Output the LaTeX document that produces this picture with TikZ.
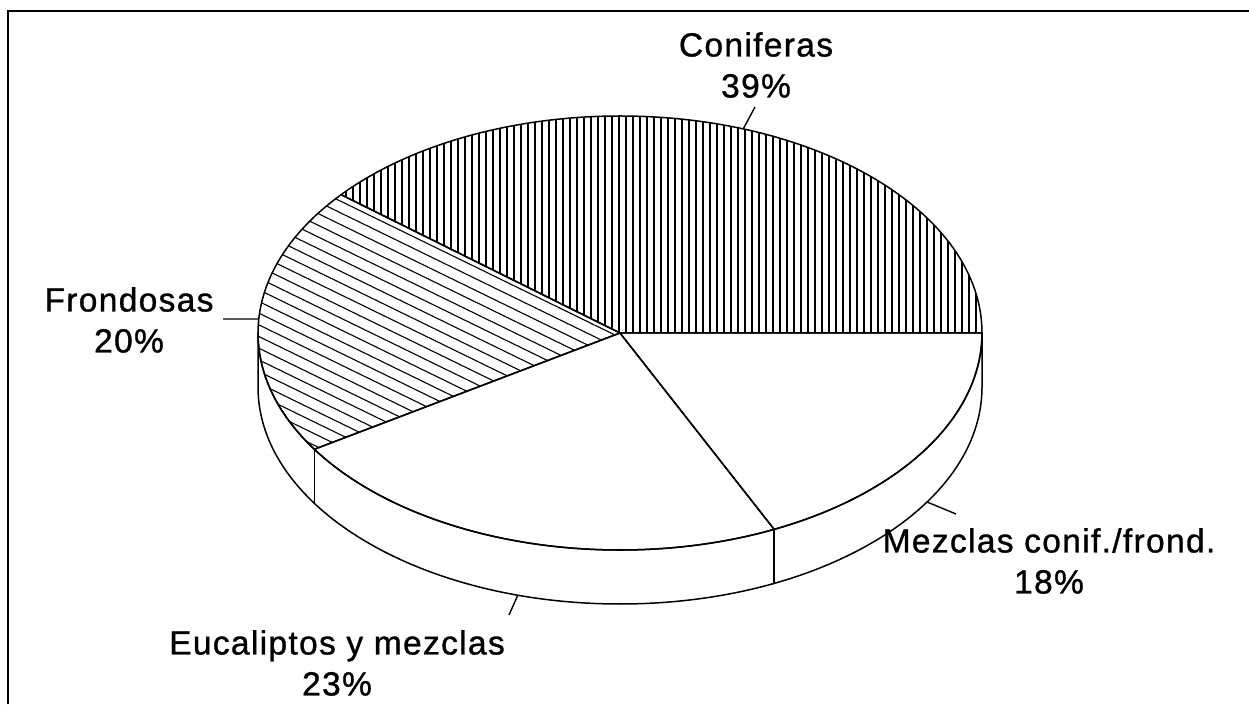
\documentclass[tikz,border=0pt]{standalone}
\usepackage{fontspec}
\newfontfamily\rotulo[LetterSpace=4, FakeBold=1]{Liberation Sans}
\usetikzlibrary{calc}
\tikzset{
	marco/.style={line width=2.4pt, black},
	contorno/.style={line width=1.5pt, black, line join=round},
	rayado/.style={line width=1.1pt, black},
	guia/.style={line width=1.4pt, black},
	elipse/.style={x radius=362, y radius=217},
	etiqueta/.style={font=\rotulo\fontsize{33.5}{41}\selectfont, align=center,
		inner sep=0pt, anchor=north}
}

\begin{document}
\begin{tikzpicture}[x=1pt, y=1pt]
	\useasboundingbox (0,0) rectangle (1249,704);
	\draw[marco] (8,0) -- (8,693) -- (1249,693);

	\coordinate (C) at (620,371);

	% lateral
	\draw[contorno, fill=white] ($(C)+(180:362 and 217)$) arc[start angle=180, end angle=360, elipse]
		-- ++(0,-54) arc[start angle=360, end angle=180, elipse] -- cycle;
	\draw[contorno] ($(C)+(212.4:362 and 217)$) -- ++(0,-54);
	\draw[contorno] ($(C)+(295.2:362 and 217)$) -- ++(0,-54);

	% coniferas
	\begin{scope}
		\clip (C) -- ++(0:362 and 217) arc[start angle=0, end angle=140.4, elipse] -- cycle;
		\foreach \x in {262,269,...,983}
			\draw[rayado] (\x,370) -- (\x,600);
	\end{scope}
	\draw[contorno] (C) -- ++(0:362 and 217) arc[start angle=0, end angle=140.4, elipse] -- cycle;

	% frondosas
	\begin{scope}
		\clip (C) -- ++(140.4:362 and 217) arc[start angle=140.4, end angle=212.4, elipse] -- cycle;
		\begin{scope}[shift={(C)}, rotate=-26]
			\foreach \d in {-4,-14.5,...,-270}
				\draw[rayado] (-420,\d) -- (60,\d);
		\end{scope}
	\end{scope}
	\draw[contorno] (C) -- ++(140.4:362 and 217) arc[start angle=140.4, end angle=212.4, elipse] -- cycle;

	% eucaliptos y mezclas
	\draw[contorno] (C) -- ++(212.4:362 and 217) arc[start angle=212.4, end angle=295.2, elipse] -- cycle;
	\draw[contorno] (C) -- ++(295.2:362 and 217) arc[start angle=295.2, end angle=360, elipse] -- cycle;

	% guias
	\coordinate (con-a) at ($(C)+(70.1:362 and 217)$);
	\coordinate (con-b) at (755,597);
	\coordinate (fro-a) at ($(C)+(176.3:362 and 217)$);
	\coordinate (fro-b) at (223,385);
	\coordinate (mez-a) at ($(C)+(0,-54)+(328:362 and 217)$);
	\coordinate (mez-b) at (956,190);
	\coordinate (euc-a) at ($(C)+(0,-54)+(253.6:362 and 217)$);
	\coordinate (euc-b) at (509,89);
	\draw[guia] (con-a) -- (con-b);
	\draw[guia] (fro-a) -- (fro-b);
	\draw[guia] (mez-a) -- (mez-b);
	\draw[guia] (euc-a) -- (euc-b);

	\node[etiqueta] (coniferas) at (756,672) {Coniferas\\39\%};
	\node[etiqueta] (frondosas) at (129,417) {Frondosas\\20\%};
	\node[etiqueta] (mezclas) at (1049,176) {Mezclas conif./frond.\\18\%};
	\node[etiqueta] (eucaliptos) at (337,74) {Eucaliptos y mezclas\\23\%};
\end{tikzpicture}
\end{document}
